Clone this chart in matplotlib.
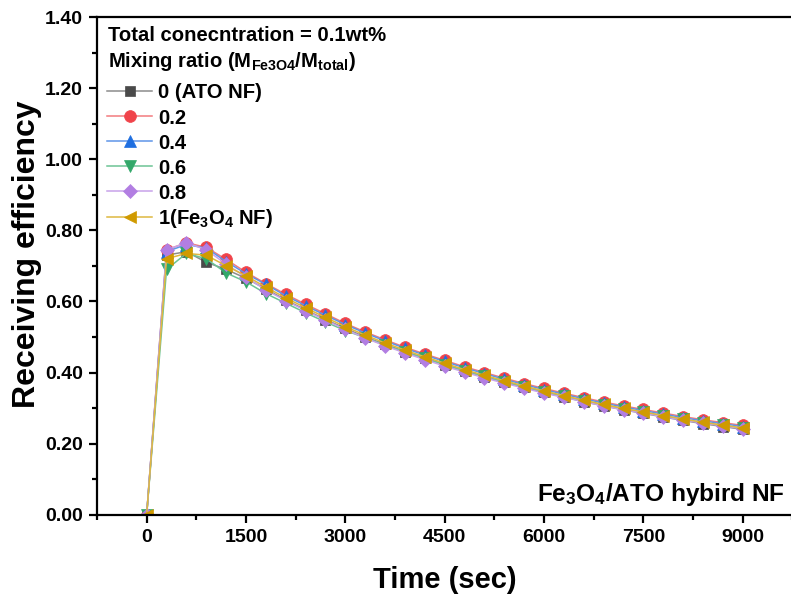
import matplotlib
matplotlib.use("Agg")
import matplotlib.pyplot as plt
from matplotlib.lines import Line2D
from matplotlib.ticker import MultipleLocator, FormatStrFormatter

plt.rcParams['font.family'] = ['Liberation Sans', 'DejaVu Sans']
plt.rcParams['font.weight'] = 'bold'
plt.rcParams['mathtext.fontset'] = 'custom'
plt.rcParams['mathtext.rm'] = 'Liberation Sans:bold'
plt.rcParams['mathtext.it'] = 'Liberation Sans:bold'
plt.rcParams['mathtext.bf'] = 'Liberation Sans:bold'
plt.rcParams['mathtext.default'] = 'rm'

# Sampling times (sec)
time_sec = [0, 300, 600, 900, 1200, 1500, 1800, 2100, 2400, 2700, 3000,
            3300, 3600, 3900, 4200, 4500, 4800, 5100, 5400, 5700, 6000,
            6300, 6600, 6900, 7200, 7500, 7800, 8100, 8400, 8700, 9000]

# Receiving efficiency for each Fe3O4 mixing ratio
eff_0 = [0.00, 0.730, 0.740, 0.710, 0.690, 0.665, 0.635, 0.604, 0.576, 0.549, 0.524,
         0.500, 0.479, 0.459, 0.440, 0.422, 0.404, 0.388, 0.373, 0.358, 0.344,
         0.331, 0.318, 0.306, 0.295, 0.285, 0.275, 0.265, 0.256, 0.248, 0.240]
eff_02 = [0.00, 0.745, 0.765, 0.752, 0.718, 0.682, 0.650, 0.620, 0.592, 0.565, 0.538,
          0.514, 0.492, 0.471, 0.452, 0.434, 0.416, 0.400, 0.384, 0.369, 0.355,
          0.342, 0.329, 0.317, 0.306, 0.296, 0.286, 0.276, 0.267, 0.259, 0.251]
eff_04 = [0.00, 0.740, 0.760, 0.750, 0.712, 0.678, 0.648, 0.616, 0.588, 0.561, 0.535,
          0.511, 0.489, 0.468, 0.449, 0.431, 0.413, 0.397, 0.381, 0.366, 0.352,
          0.339, 0.326, 0.314, 0.303, 0.293, 0.283, 0.273, 0.264, 0.256, 0.248]
eff_06 = [0.00, 0.690, 0.735, 0.720, 0.680, 0.655, 0.622, 0.595, 0.568, 0.542, 0.518,
          0.498, 0.477, 0.458, 0.440, 0.422, 0.405, 0.389, 0.374, 0.360, 0.346,
          0.333, 0.320, 0.309, 0.298, 0.288, 0.278, 0.268, 0.259, 0.251, 0.243]
eff_08 = [0.00, 0.745, 0.765, 0.745, 0.705, 0.668, 0.632, 0.602, 0.574, 0.547, 0.521,
          0.497, 0.475, 0.455, 0.436, 0.418, 0.401, 0.385, 0.370, 0.356, 0.342,
          0.330, 0.318, 0.306, 0.295, 0.286, 0.276, 0.266, 0.258, 0.250, 0.242]
eff_1 = [0.00, 0.720, 0.735, 0.730, 0.700, 0.672, 0.640, 0.610, 0.582, 0.555, 0.529,
         0.505, 0.483, 0.463, 0.444, 0.426, 0.408, 0.392, 0.377, 0.362, 0.348,
         0.335, 0.322, 0.310, 0.299, 0.289, 0.279, 0.269, 0.260, 0.252, 0.244]

labels = ['0 (ATO NF)', '0.2', '0.4', '0.6', '0.8', r'1(Fe$_3$O$_4$ NF)']
series = [eff_0, eff_02, eff_04, eff_06, eff_08, eff_1]
markers = ['s', 'o', '^', 'v', 'D', '<']
marker_sizes = [7, 8.5, 8, 8, 7, 8.5]
face_colors = ['#4a4a4a', '#f0434a', '#1f6fe0', '#33a86a', '#b27ee2', '#d09a00']
line_colors = ['#8c8c8c', '#f27a7f', '#5e95e8', '#6cc495', '#c7a2ea', '#deb840']

W, H = 791, 600
fig = plt.figure(figsize=(W / 100, H / 100), dpi=100)
ax = fig.add_axes([97 / W, 1 - 514.7 / H, (792.4 - 97) / W, (514.7 - 17) / H])

for y, lab, m, ms, fc, lc in zip(series, labels, markers, marker_sizes, face_colors, line_colors):
    ax.plot(time_sec, y, color=lc, lw=1.1, marker=m, markersize=ms,
            markerfacecolor=fc, markeredgecolor=fc, markeredgewidth=0.5, label=lab)

ax.set_xlim(-750, 9750)
ax.set_ylim(0, 1.4)
ax.xaxis.set_major_locator(MultipleLocator(1500))
ax.xaxis.set_minor_locator(MultipleLocator(750))
ax.yaxis.set_major_locator(MultipleLocator(0.2))
ax.yaxis.set_minor_locator(MultipleLocator(0.1))
ax.yaxis.set_major_formatter(FormatStrFormatter('%.2f'))

for s in ['left', 'bottom', 'top']:
    ax.spines[s].set_linewidth(1.6)
ax.spines['right'].set_visible(False)
ax.tick_params(which='major', direction='out', length=6, width=1.6,
               labelsize=14, pad=4, top=False, right=False)
ax.tick_params(which='minor', direction='out', length=3.5, width=1.6, top=False, right=False)
for t in ax.get_xticklabels() + ax.get_yticklabels():
    t.set_fontweight('bold')

ax.set_xlabel('Time (sec)', fontsize=21, fontweight='bold', labelpad=15)
ax.set_ylabel('Receiving efficiency', fontsize=23, fontweight='bold')
ax.yaxis.set_label_coords((42 - 97) / 695.4, (514.7 - 254) / 497.7)

# Legend header lines
fig.text(108 / W, 1 - 41 / H, 'Total conecntration = 0.1wt%', fontsize=14.6,
         fontweight='bold', va='baseline', ha='left')
fig.text(108 / W, 1 - 67.3 / H, r'Mixing ratio (M$_{\mathrm{Fe3O4}}$/M$_{\mathrm{total}}$)',
         fontsize=14.6, fontweight='bold', va='baseline', ha='left')

# Legend entries: sample line with centred marker, then the label
row0, row_step = 91.0, 25.1
hx0, hx1, tx = 106.7, 152.3, 158.3
for i, (lab, m, ms, fc, lc) in enumerate(zip(labels, markers, marker_sizes, face_colors, line_colors)):
    yc = 1 - (row0 + i * row_step) / H
    fig.add_artist(Line2D([hx0 / W, (hx0 + hx1) / 2 / W, hx1 / W], [yc, yc, yc],
                          transform=fig.transFigure, color=lc, lw=1.1, marker=m,
                          markersize=ms, markevery=[1], markerfacecolor=fc,
                          markeredgecolor=fc, markeredgewidth=0.5))
    fig.text(tx / W, 1 - (row0 + i * row_step + 7.4) / H, lab, fontsize=14.6,
             fontweight='bold', va='baseline', ha='left')

ax.text(0.989, 0.0275, r'Fe$_3$O$_4$/ATO hybird NF', transform=ax.transAxes,
        fontsize=17.6, fontweight='bold', ha='right', va='baseline')

fig.savefig('out.png', dpi=100)
